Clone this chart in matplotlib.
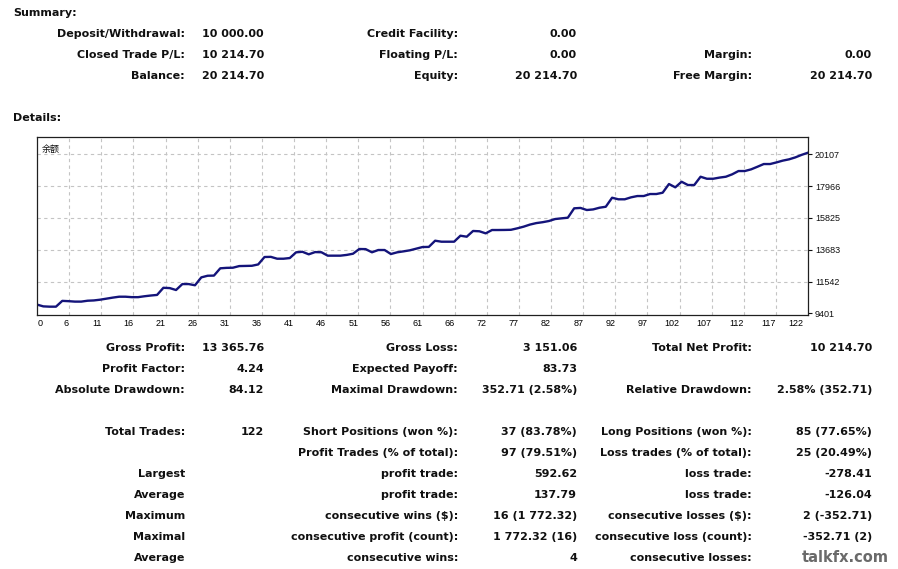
import matplotlib
matplotlib.use("Agg")
import matplotlib.pyplot as plt
from matplotlib.transforms import ScaledTranslation
import numpy as np

# ---------------- data ----------------
balance = [10000, 9880, 9860, 9860, 10250, 10230, 10200, 10200, 10260, 10280,
           10330, 10400, 10470, 10530, 10530, 10500, 10500, 10560, 10610, 10650,
           11130, 11110, 10980, 11380, 11380, 11300, 11830, 11940, 11950, 12440,
           12470, 12480, 12590, 12600, 12610, 12700, 13200, 13210, 13085, 13085,
           13130, 13515, 13550, 13380, 13530, 13520, 13290, 13290, 13290, 13340,
           13420, 13737, 13730, 13516, 13670, 13670, 13400, 13516, 13580, 13650,
           13760, 13870, 13880, 14296, 14229, 14229, 14229, 14632, 14565, 14950,
           14930, 14790, 15015, 15015, 15020, 15030, 15128, 15240, 15380, 15480,
           15540, 15620, 15754, 15800, 15843, 16474, 16500, 16360, 16400, 16514,
           16580, 17186, 17080, 17080, 17213, 17300, 17300, 17435, 17435, 17523,
           18108, 17885, 18262, 18040, 18040, 18598, 18463, 18463, 18540, 18598,
           18760, 18981, 18981, 19095, 19270, 19452, 19452, 19560, 19680, 19768,
           19900, 20070, 20214.70]
y_ticks = [9401, 11542, 13683, 15825, 17966, 20107]
x_tick_labels = ["0", "6", "11", "16", "21", "26", "31", "36", "41", "46", "51", "56",
                 "61", "66", "72", "77", "82", "87", "92", "97", "102", "107", "112",
                 "117", "122"]
chart_title = "余额"

summary_labels_1 = ["Deposit/Withdrawal:", "Closed Trade P/L:", "Balance:"]
summary_values_1 = ["10 000.00", "10 214.70", "20 214.70"]
summary_labels_2 = ["Credit Facility:", "Floating P/L:", "Equity:"]
summary_values_2 = ["0.00", "0.00", "20 214.70"]
summary_labels_3 = ["", "Margin:", "Free Margin:"]
summary_values_3 = ["", "0.00", "20 214.70"]

stats_labels_1 = ["Gross Profit:", "Profit Factor:", "Absolute Drawdown:", None,
                  "Total Trades:", "", "Largest", "Average", "Maximum", "Maximal", "Average"]
stats_values_1 = ["13 365.76", "4.24", "84.12", None, "122", "", "", "", "", "", ""]
stats_labels_2 = ["Gross Loss:", "Expected Payoff:", "Maximal Drawdown:", None,
                  "Short Positions (won %):", "Profit Trades (% of total):", "profit trade:",
                  "profit trade:", "consecutive wins ($):", "consecutive profit (count):",
                  "consecutive wins:"]
stats_values_2 = ["3 151.06", "83.73", "352.71 (2.58%)", None, "37 (83.78%)", "97 (79.51%)",
                  "592.62", "137.79", "16 (1 772.32)", "1 772.32 (16)", "4"]
stats_labels_3 = ["Total Net Profit:", "", "Relative Drawdown:", None,
                  "Long Positions (won %):", "Loss trades (% of total):", "loss trade:",
                  "loss trade:", "consecutive losses ($):", "consecutive loss (count):",
                  "consecutive losses:"]
stats_values_3 = ["10 214.70", "", "2.58% (352.71)", None, "85 (77.65%)", "25 (20.49%)",
                  "-278.41", "-126.04", "2 (-352.71)", "-352.71 (2)", ""]
watermark = "talkfx.com"

# ---------------- figure ----------------
W, H = 898, 569
fig = plt.figure(figsize=(W / 100, H / 100), dpi=100)
fig.patch.set_facecolor("white")

def fx(x):
    return x / W

def fy(y):
    return 1 - y / H

FONT = "DejaVu Sans"
FS = 8
def put(x, y, s, ha="right", **kw):
    if s:
        fig.text(fx(x), fy(y), s, ha=ha, va="center", fontsize=FS, family=FONT,
                 fontweight="bold", color="#101010", **kw)

put(13, 13, "Summary:", ha="left")
put(13, 118, "Details:", ha="left")

row_y_sum = [34, 55, 76]
for i, y in enumerate(row_y_sum):
    put(185, y, summary_labels_1[i]); put(264, y, summary_values_1[i])
    put(458, y, summary_labels_2[i]); put(577, y, summary_values_2[i])
    put(752, y, summary_labels_3[i]); put(872, y, summary_values_3[i])

y0 = 348
for i in range(len(stats_labels_1)):
    if stats_labels_1[i] is None:
        continue
    y = y0 + i * 21
    put(185, y, stats_labels_1[i]); put(264, y, stats_values_1[i])
    put(458, y, stats_labels_2[i]); put(577, y, stats_values_2[i])
    put(752, y, stats_labels_3[i]); put(872, y, stats_values_3[i])

fig.text(fx(845), fy(558), watermark, ha="center", va="center", fontsize=10.5,
         family=FONT, fontweight="heavy", color="#6a6a6a")

# ---------------- chart ----------------
L, R, T, B = 37, 808, 137, 315
ax = fig.add_axes([fx(L), fy(B), (R - L) / W, (B - T) / H])
n = len(balance)
xs = np.arange(n)
ax.plot(xs, balance, color="#14147a", lw=1.7, solid_joinstyle="round")
ax.set_xlim(0, n - 1)
ax.set_ylim(9300, 21270)

xt = np.linspace(0, n - 1, len(x_tick_labels))
ax.set_xticks(xt)
ax.set_xticklabels(x_tick_labels, fontsize=6.5, family="Liberation Sans")
ax.tick_params(axis="x", length=0, pad=3)
for k, lab in enumerate(ax.get_xticklabels()):
    if k == 0:
        lab.set_ha("left")
        lab.set_transform(lab.get_transform() + ScaledTranslation(1 / 100, 0, fig.dpi_scale_trans))
    else:
        lab.set_ha("right")
        off = -5 if k == len(x_tick_labels) - 1 else 0
        lab.set_transform(lab.get_transform() + ScaledTranslation(off / 100, 0, fig.dpi_scale_trans))

ax.yaxis.tick_right()
ax.set_yticks(y_ticks)
ax.set_yticklabels([str(v) for v in y_ticks], fontsize=6.5, family="Liberation Sans")
ax.tick_params(axis="y", length=3, width=0.8, pad=2, colors="#101010")

for x in xt[1:-1]:
    ax.axvline(x, color="#c4c4c4", lw=0.8, ls=(0, (3, 3)), zorder=0)
for y in y_ticks[1:]:
    ax.axhline(y, color="#c4c4c4", lw=0.8, ls=(0, (3, 3)), zorder=0)

for sp in ax.spines.values():
    sp.set_color("#202020")
    sp.set_linewidth(0.9)

ax.text(0.006, 0.955, chart_title, transform=ax.transAxes, ha="left", va="top",
        fontsize=6.5, family=["Noto Sans CJK SC", "DejaVu Sans"], color="#101010")

fig.savefig("out.png", dpi=100, facecolor="white")
